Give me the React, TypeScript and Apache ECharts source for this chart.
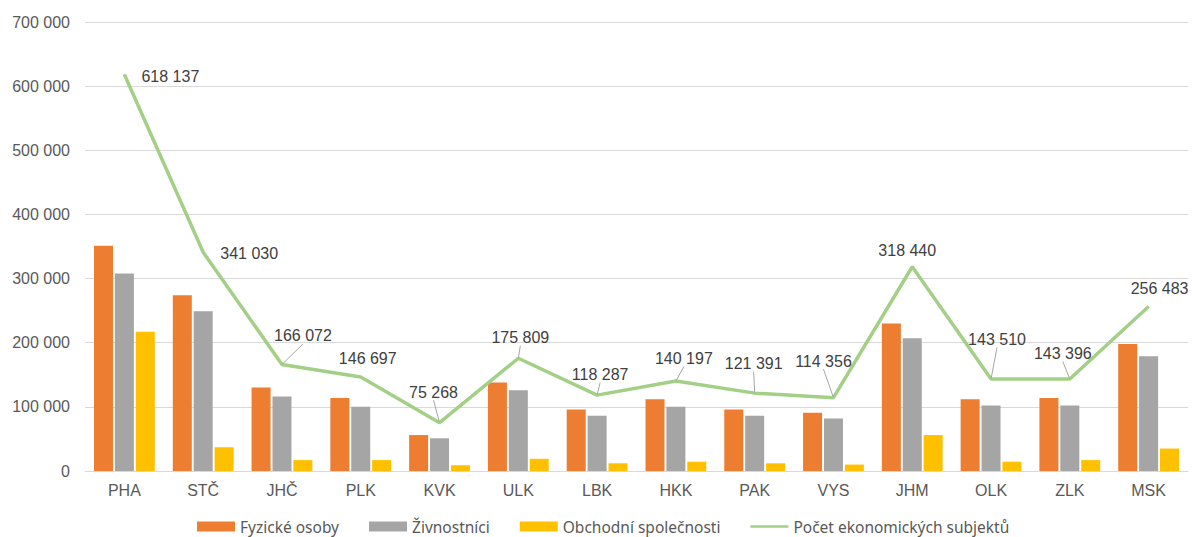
import React, { useEffect, useRef } from "react";
import * as echarts from "echarts";

const categories = ["PHA", "STČ", "JHČ", "PLK", "KVK", "ULK", "LBK", "HKK", "PAK", "VYS", "JHM", "OLK", "ZLK", "MSK"];
const fyzickeOsoby = [351000, 274000, 130000, 114000, 56000, 138000, 96000, 112000, 96000, 91000, 230000, 112000, 114000, 198000];
const zivnostnici = [308000, 249000, 116000, 100000, 51000, 126000, 86000, 100000, 86000, 82000, 207000, 102000, 102000, 179000];
const obchodniSpolecnosti = [217000, 37000, 17000, 17000, 9000, 19000, 12000, 14500, 12000, 10000, 56000, 14500, 17000, 35000];
const pocetSubjektu = [618137, 341030, 166072, 146697, 75268, 175809, 118287, 140197, 121391, 114356, 318440, 143510, 143396, 256483];

// label placement (style only)
const labelShift: [number, number, boolean][] = [
  [46, 15, false], [46, 15, false], [21, -15, true], [7, -5, false], [-6, -17, true],
  [2, -7, true], [3, -7, true], [8, -9, true], [-1, -16, true], [-10, -23, true],
  [-5, -3, false], [6, -26, true], [-7, -12, true], [11, -4, false],
];

const fmt = (v: number) => String(Math.round(v)).replace(/\B(?=(\d{3})+(?!\d))/g, " ");
const LINE_ICON = "path://M0,0h0.05v0.05h-0.05z M0,3.7h38v2.6h-38z M37.95,9.95h0.05v0.05h-0.05z";

export default function App() {
  const ref = useRef<HTMLDivElement>(null);
  useEffect(() => {
    document.body.style.margin = "0";
    const chart = echarts.init(ref.current!, null, { renderer: "svg" });
    const barBase = { type: "bar", barWidth: 19, barGap: "10%" };
    const font = "Arial, Liberation Sans, sans-serif";
    chart.setOption({
      animation: false,
      backgroundColor: "#ffffff",
      grid: { left: 85, right: 4, top: 22, bottom: 66 },
      legend: {
        top: 518,
        left: 197,
        padding: 0,
        itemWidth: 38,
        itemHeight: 10,
        itemGap: 30,
        textStyle: { color: "#595959", fontSize: 15.5, lineHeight: 17, fontFamily: "Noto Sans, sans-serif" },
        data: [
          { name: "Fyzické osoby", icon: "rect" },
          { name: "Živnostníci", icon: "rect" },
          { name: "Obchodní společnosti", icon: "rect" },
          { name: "Počet ekonomických subjektů", icon: LINE_ICON },
        ],
      },
      xAxis: {
        type: "category",
        data: categories,
        axisLine: { lineStyle: { color: "#d9d9d9" } },
        axisTick: { show: false },
        axisLabel: { color: "#595959", fontSize: 16, fontFamily: font, margin: 11 },
      },
      yAxis: {
        type: "value",
        min: 0,
        max: 700000,
        interval: 100000,
        axisLine: { show: false },
        axisTick: { show: false },
        splitLine: { lineStyle: { color: "#d9d9d9" } },
        axisLabel: { color: "#595959", fontSize: 16, fontFamily: font, margin: 15, formatter: fmt },
      },
      series: [
        { ...barBase, name: "Fyzické osoby", data: fyzickeOsoby, itemStyle: { color: "#ED7D31" } },
        { ...barBase, name: "Živnostníci", data: zivnostnici, itemStyle: { color: "#A5A5A5" } },
        { ...barBase, name: "Obchodní společnosti", data: obchodniSpolecnosti, itemStyle: { color: "#FFC000" } },
        {
          type: "line",
          name: "Počet ekonomických subjektů",
          data: pocetSubjektu.map((v, i) => ({
            value: v,
            labelLine: { show: labelShift[i][2] },
          })),
          symbol: "circle",
          symbolSize: 1,
          lineStyle: { color: "#A3CF86", width: 3.5 },
          itemStyle: { color: "#A3CF86" },
          label: {
            show: true,
            position: "top",
            color: "#404040",
            fontSize: 16,
            fontFamily: font,
            formatter: (p: any) => fmt(p.value),
          },
          labelLine: { show: true, lineStyle: { color: "#a6a6a6", width: 1 } },
          labelLayout: (p: any) => ({ dx: labelShift[p.dataIndex][0], dy: labelShift[p.dataIndex][1] }),
          z: 5,
        },
      ],
    });
    return () => chart.dispose();
  }, []);
  return <div ref={ref} style={{ width: 1192, height: 537 }} />;
}
